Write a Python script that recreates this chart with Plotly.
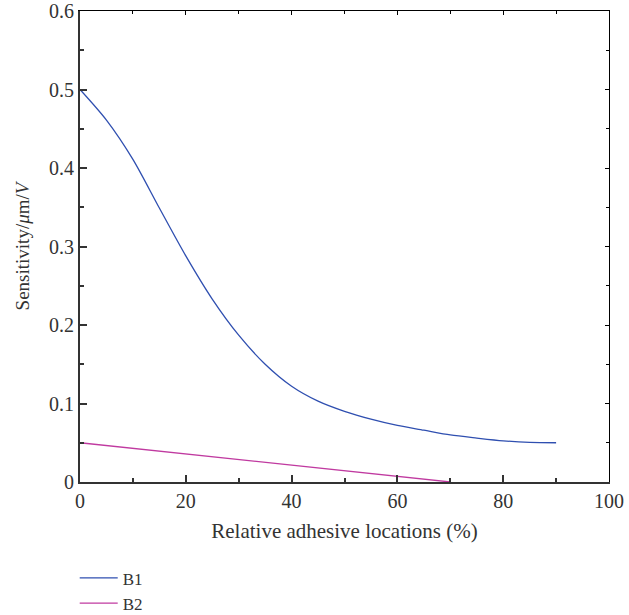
import plotly.graph_objects as go

b1_x = [0, 5, 10, 15, 20, 25, 30, 35, 40, 45, 50, 55, 60, 65, 70, 75, 80, 85, 90]
b1_y = [0.500, 0.461, 0.411, 0.349, 0.288, 0.233, 0.187, 0.150, 0.122, 0.103,
        0.090, 0.080, 0.072, 0.066, 0.060, 0.056, 0.0525, 0.0505, 0.050]
b2_x = [0, 70]
b2_y = [0.050, 0.0]
y_ticks = [0, 0.1, 0.2, 0.3, 0.4, 0.5, 0.6]
y_tick_labels = ["0", "0.1", "0.2", "0.3", "0.4", "0.5", "0.6"]

FONT = "Liberation Serif"
AX = "#333333"

fig = go.Figure()
fig.add_trace(go.Scatter(x=b1_x, y=b1_y, mode="lines", name="B1",
                         line=dict(color="#2f4fb0", width=1.3, shape="spline", smoothing=0.8)))
fig.add_trace(go.Scatter(x=b2_x, y=b2_y, mode="lines", name="B2",
                         line=dict(color="#c03aa0", width=1.3)))
fig.add_trace(go.Scatter(x=[0], y=[0], xaxis="x2", yaxis="y2", mode="markers",
                         marker=dict(opacity=0), showlegend=False, hoverinfo="skip"))

fig.update_layout(
    width=629, height=615,
    margin=dict(l=80, r=20, t=11, b=133, autoexpand=False),
    plot_bgcolor="white", paper_bgcolor="white",
    font=dict(family=FONT, size=20, color=AX),
    showlegend=True,
    legend=dict(x=-0.01, xanchor="left", y=-0.296, yanchor="bottom",
                font=dict(family=FONT, size=17, color=AX),
                bgcolor="rgba(0,0,0,0)", tracegroupgap=2, itemwidth=38),
    xaxis=dict(range=[0, 100], dtick=20, tick0=0, showgrid=False, zeroline=False,
               automargin=False,
               showline=True, linewidth=2, linecolor=AX,
               ticks="inside", ticklen=7, tickwidth=1.5, tickcolor=AX,
               minor=dict(ticks="inside", ticklen=4, dtick=10, tickcolor=AX, tickwidth=1.5),
               title=dict(text="Relative adhesive locations (%)", standoff=12,
                          font=dict(family=FONT, size=21, color=AX)),
               tickfont=dict(family=FONT, size=20, color=AX)),
    yaxis=dict(range=[0, 0.6], tickvals=y_ticks, ticktext=y_tick_labels,
               showgrid=False, zeroline=False, automargin=False,
               showline=True, linewidth=2, linecolor=AX,
               ticks="inside", ticklen=7, tickwidth=1.5, tickcolor=AX,
               minor=dict(ticks="inside", ticklen=4, dtick=0.05, tickcolor=AX, tickwidth=1.5),
               title=dict(text="Sensitivity/<i>μ</i>m/<i>V</i>", standoff=14,
                          font=dict(family=FONT, size=19, color=AX)),
               tickfont=dict(family=FONT, size=20, color=AX)),
    xaxis2=dict(range=[0, 100], overlaying="x", side="top", showgrid=False, zeroline=False,
                automargin=False,
                showline=True, linewidth=1, linecolor="black", showticklabels=False,
                ticks="inside", dtick=20, ticklen=4, tickcolor="black",
                minor=dict(ticks="inside", ticklen=3, dtick=10, tickcolor="black")),
    yaxis2=dict(range=[0, 0.6], overlaying="y", side="right", showgrid=False, zeroline=False,
                automargin=False,
                showline=True, linewidth=1, linecolor="black", showticklabels=False,
                ticks="inside", dtick=0.1, ticklen=4, tickcolor="black",
                minor=dict(ticks="inside", ticklen=3, dtick=0.05, tickcolor="black")),
)

fig.write_html("out.html", config={"displayModeBar": False},
               post_script="document.body.style.margin='0';")
